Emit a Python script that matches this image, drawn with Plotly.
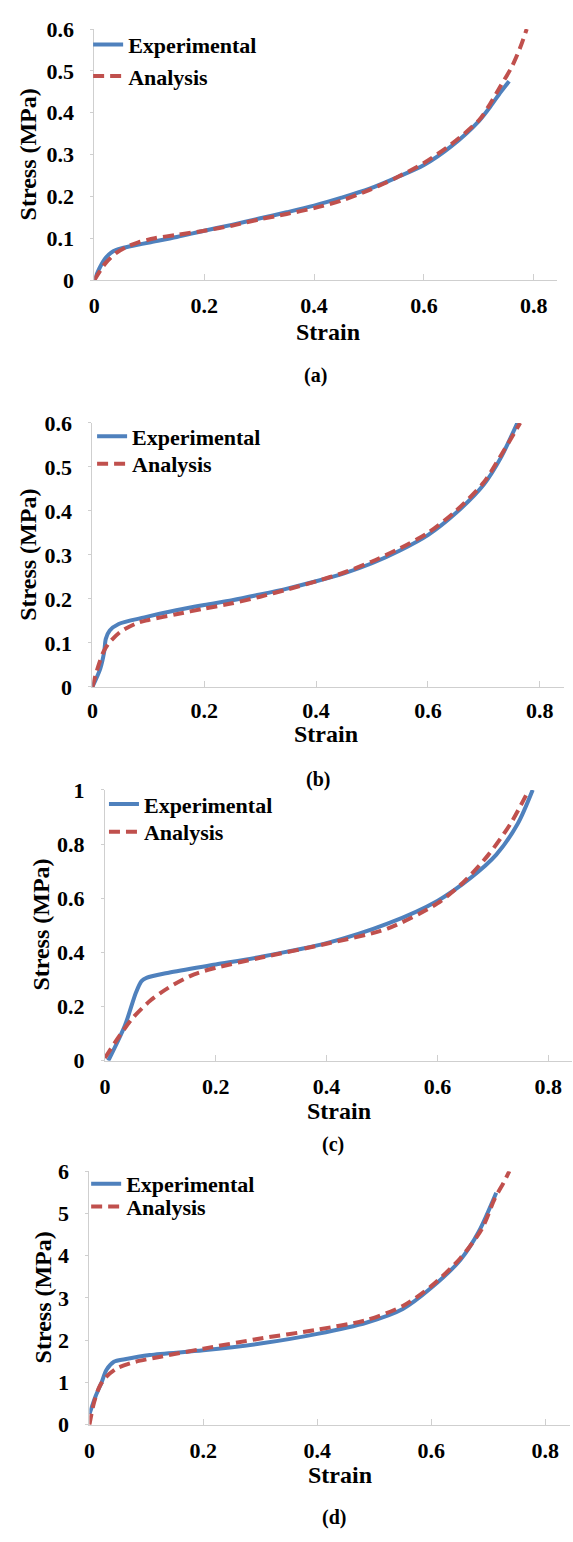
import plotly.graph_objects as go

W, H = 573, 1542

# ---------------- data ----------------
# Panel (a)
a_exp_x = [0, 0.01, 0.02, 0.03, 0.04, 0.05, 0.07, 0.10, 0.15, 0.20, 0.25, 0.30, 0.35, 0.40, 0.45, 0.50, 0.55, 0.60, 0.65, 0.70, 0.72, 0.74, 0.755]
a_exp_y = [0, 0.030, 0.052, 0.065, 0.072, 0.076, 0.082, 0.090, 0.103, 0.118, 0.132, 0.147, 0.162, 0.178, 0.197, 0.218, 0.245, 0.275, 0.320, 0.380, 0.413, 0.450, 0.475]
a_ana_x = [0, 0.02, 0.04, 0.06, 0.08, 0.11, 0.15, 0.20, 0.25, 0.30, 0.35, 0.40, 0.45, 0.50, 0.55, 0.60, 0.65, 0.70, 0.72, 0.74, 0.76, 0.775, 0.787]
a_ana_y = [0, 0.040, 0.065, 0.080, 0.090, 0.100, 0.108, 0.118, 0.130, 0.145, 0.158, 0.172, 0.190, 0.215, 0.245, 0.280, 0.325, 0.382, 0.420, 0.465, 0.510, 0.555, 0.600]

# Panel (b)
b_exp_x = [0, 0.014, 0.021, 0.024, 0.031, 0.047, 0.093, 0.15, 0.20, 0.25, 0.30, 0.35, 0.40, 0.45, 0.50, 0.55, 0.60, 0.65, 0.70, 0.73, 0.76]
b_exp_y = [0, 0.041, 0.079, 0.109, 0.128, 0.143, 0.158, 0.174, 0.186, 0.197, 0.210, 0.224, 0.240, 0.258, 0.281, 0.310, 0.345, 0.395, 0.460, 0.520, 0.600]
b_ana_x = [0, 0.01, 0.02, 0.03, 0.05, 0.08, 0.10, 0.15, 0.20, 0.25, 0.30, 0.35, 0.40, 0.45, 0.50, 0.55, 0.60, 0.65, 0.70, 0.73, 0.765]
b_ana_y = [0, 0.045, 0.080, 0.100, 0.125, 0.145, 0.152, 0.165, 0.178, 0.190, 0.205, 0.222, 0.240, 0.260, 0.285, 0.315, 0.350, 0.400, 0.465, 0.525, 0.600]

# Panel (c)
c_exp_x = [0.006, 0.036, 0.056, 0.066, 0.075, 0.115, 0.20, 0.28, 0.40, 0.51, 0.60, 0.66, 0.706, 0.745, 0.772]
c_exp_y = [0, 0.130, 0.252, 0.294, 0.306, 0.325, 0.355, 0.383, 0.434, 0.506, 0.590, 0.675, 0.760, 0.875, 1.000]
c_ana_x = [0, 0.023, 0.049, 0.082, 0.115, 0.161, 0.20, 0.28, 0.40, 0.51, 0.60, 0.646, 0.692, 0.732, 0.765]
c_ana_y = [0.010, 0.082, 0.155, 0.222, 0.270, 0.319, 0.343, 0.380, 0.432, 0.488, 0.581, 0.657, 0.760, 0.875, 1.000]

# Panel (d)
d_exp_x = [0, 0.011, 0.021, 0.030, 0.043, 0.062, 0.106, 0.20, 0.30, 0.40, 0.487, 0.55, 0.60, 0.651, 0.683, 0.714]
d_exp_y = [0.25, 0.68, 0.99, 1.30, 1.49, 1.55, 1.65, 1.76, 1.92, 2.15, 2.42, 2.74, 3.24, 3.90, 4.56, 5.49]
d_ana_x = [0, 0.008, 0.018, 0.030, 0.049, 0.081, 0.125, 0.20, 0.30, 0.40, 0.487, 0.55, 0.60, 0.651, 0.689, 0.711, 0.727, 0.737]
d_ana_y = [0, 0.52, 0.91, 1.14, 1.34, 1.49, 1.61, 1.80, 2.04, 2.25, 2.48, 2.81, 3.28, 3.94, 4.64, 5.34, 5.73, 6.00]

x_ticks = [0, 0.2, 0.4, 0.6, 0.8]
x_tick_text = ["0", "0.2", "0.4", "0.6", "0.8"]
y_ticks = {
    "a": ([0, 0.1, 0.2, 0.3, 0.4, 0.5, 0.6], ["0", "0.1", "0.2", "0.3", "0.4", "0.5", "0.6"]),
    "b": ([0, 0.1, 0.2, 0.3, 0.4, 0.5, 0.6], ["0", "0.1", "0.2", "0.3", "0.4", "0.5", "0.6"]),
    "c": ([0, 0.2, 0.4, 0.6, 0.8, 1.0], ["0", "0.2", "0.4", "0.6", "0.8", "1"]),
    "d": ([0, 1, 2, 3, 4, 5, 6], ["0", "1", "2", "3", "4", "5", "6"]),
}
y_max = {"a": 0.6, "b": 0.6, "c": 1.0, "d": 6.0}
series_names = ["Experimental", "Analysis"]
panel_labels = ["(a)", "(b)", "(c)", "(d)"]

# ---------------- layout geometry (pixels) ----------------
panels = [
    # key, left, right, top, bottom
    ("a", 89.3, 557.3, 17.3, 272.5),
    ("b", 87.3, 563.7, 417.7, 686.0),
    ("c", 100.0, 572.0, 790.7, 1066.0),
    ("d", 84.3, 569.7, 1178.3, 1436.0),
]
x_label_standoff = [6, 4, 6, 6]
strain_title_pos = [(325, 325), (323, 734), (337, 1117), (338, 1487)]
stress_title_pos = [(22, 145), (22, 552), (35, 928), (37, 1307)]
panel_label_pos = [(313, 369), (315, 780), (330, 1151), (331, 1530)]
# legend: (left x, centre y of "Experimental" row, centre y of "Analysis" row)
legend_pos = [(83, 33, 65), (87, 431, 459), (99, 805, 833), (81, 1191, 1214)]
LEG_ROW_OFFSET = 21

data = {
    "a": (a_exp_x, a_exp_y, a_ana_x, a_ana_y),
    "b": (b_exp_x, b_exp_y, b_ana_x, b_ana_y),
    "c": (c_exp_x, c_exp_y, c_ana_x, c_ana_y),
    "d": (d_exp_x, d_exp_y, d_ana_x, d_ana_y),
}

BLUE = "#4F81BD"
RED = "#C0504D"
AXIS_COL = "#cfcfcf"
FONT = "Times New Roman, Liberation Serif, serif"

def px_x(p):
    return p / W

def px_y(p):
    return 1 - p / H

fig = go.Figure()
layout = dict(
    width=W, height=H,
    margin=dict(l=0, r=0, t=0, b=0),
    paper_bgcolor="white", plot_bgcolor="white",
    font=dict(family=FONT, color="black", size=21, weight="bold"),
    annotations=[],
)

for i, (key, l, r, t, b) in enumerate(panels):
    n = i + 1
    xs = "" if n == 1 else str(n)
    xname, yname = "x" + xs, "y" + xs
    leg1 = "legend" if i == 0 else "legend" + str(2 * i + 1)
    leg2 = "legend" + str(2 * i + 2)
    ex, ey, ax_, ay = data[key]
    fig.add_trace(go.Scatter(x=ex, y=ey, mode="lines", name=series_names[0],
                             line=dict(color=BLUE, width=4, shape="spline", smoothing=0.8),
                             xaxis=xname, yaxis=yname, legend=leg1))
    fig.add_trace(go.Scatter(x=ax_, y=ay, mode="lines", name=series_names[1],
                             line=dict(color=RED, width=4, dash="11px,6px", shape="spline", smoothing=0.8),
                             xaxis=xname, yaxis=yname, legend=leg2))
    layout["xaxis" + xs] = dict(
        domain=[px_x(l), px_x(r)], anchor=yname, range=[0, 0.843],
        tickvals=x_ticks, ticktext=x_tick_text,
        showgrid=False, zeroline=False, showline=True, linecolor=AXIS_COL, linewidth=1,
        ticks="inside", ticklen=6, tickcolor=AXIS_COL, tickwidth=1,
        tickfont=dict(family=FONT, size=22, color="black", weight="bold"),
        ticklabelstandoff=x_label_standoff[i],
    )
    tv, tt = y_ticks[key]
    layout["yaxis" + xs] = dict(
        domain=[px_y(b), px_y(t)], anchor=xname, range=[0, y_max[key]],
        tickvals=tv, ticktext=tt,
        showgrid=False, zeroline=False, showline=True, linecolor=AXIS_COL, linewidth=1,
        ticks="outside", ticklen=3, tickcolor=AXIS_COL, tickwidth=1,
        tickfont=dict(family=FONT, size=22, color="black", weight="bold"),
        ticklabelstandoff=12,
    )
    lx, r1, r2 = legend_pos[i]
    for leg, ry in ((leg1, r1), (leg2, r2)):
        layout[leg] = dict(
            x=px_x(lx), y=px_y(ry - LEG_ROW_OFFSET), xanchor="left", yanchor="top",
            bgcolor="rgba(0,0,0,0)", borderwidth=0,
            font=dict(family=FONT, size=22, color="black", weight="bold"),
            itemwidth=30,
        )
    sx, sy = strain_title_pos[i]
    layout["annotations"].append(dict(
        text="Strain", x=px_x(sx), y=px_y(sy), xref="paper", yref="paper",
        showarrow=False, xanchor="center", yanchor="middle",
        font=dict(family=FONT, size=24, color="black", weight="bold")))
    tx, ty = stress_title_pos[i]
    layout["annotations"].append(dict(
        text="Stress (MPa)", x=px_x(tx), y=px_y(ty), xref="paper", yref="paper",
        showarrow=False, xanchor="center", yanchor="middle", textangle=-90,
        font=dict(family=FONT, size=24, color="black", weight="bold")))
    plx, ply = panel_label_pos[i]
    layout["annotations"].append(dict(
        text=panel_labels[i], x=px_x(plx), y=px_y(ply), xref="paper", yref="paper",
        showarrow=False, xanchor="center", yanchor="middle",
        font=dict(family=FONT, size=20, color="black", weight="bold")))

fig.update_layout(**layout)
fig.update_layout(showlegend=True)
fig.write_html("out.html", config={"displayModeBar": False},
               post_script="document.body.style.margin='0px';document.body.style.overflow='hidden';")
